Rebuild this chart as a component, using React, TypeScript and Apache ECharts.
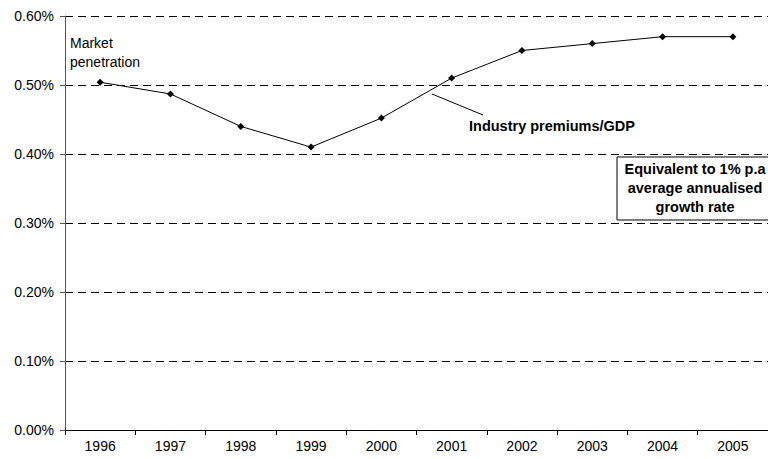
import React, { useEffect, useRef } from "react";
import * as echarts from "echarts";

const years = ["1996", "1997", "1998", "1999", "2000", "2001", "2002", "2003", "2004", "2005"];
const penetration = [0.504, 0.487, 0.44, 0.41, 0.452, 0.51, 0.55, 0.56, 0.57, 0.57];
const yTicks = { min: 0, max: 0.6, interval: 0.1 };

const FONT = "'Liberation Sans', Arial, sans-serif";

export default function App() {
  const ref = useRef<HTMLDivElement>(null);
  useEffect(() => {
    if (!ref.current) return;
    const chart = echarts.init(ref.current, null, { renderer: "svg" });
    chart.setOption({
      animation: false,
      backgroundColor: "#ffffff",
      textStyle: { fontFamily: FONT },
      grid: { left: 65, top: 16, bottom: 29, right: -15, containLabel: false },
      xAxis: {
        type: "category",
        data: years,
        boundaryGap: true,
        axisLine: { lineStyle: { color: "#000", width: 1 } },
        axisTick: { show: true, length: 5, inside: false, lineStyle: { color: "#000" } },
        axisLabel: { color: "#000", fontSize: 14, fontFamily: FONT, margin: 9 },
        splitLine: { show: false },
      },
      yAxis: {
        type: "value",
        min: yTicks.min,
        max: yTicks.max,
        interval: yTicks.interval,
        axisLine: { show: true, lineStyle: { color: "#555", width: 1 } },
        axisTick: { show: true, length: 5, lineStyle: { color: "#555" } },
        axisLabel: {
          color: "#000",
          fontSize: 14,
          fontFamily: FONT,
          margin: 11,
          formatter: (v: number) => v.toFixed(2) + "%",
        },
        splitLine: {
          show: true,
          lineStyle: { color: "#000", width: 1, type: [8, 5] },
        },
      },
      series: [
        {
          type: "line",
          data: penetration,
          symbol: "diamond",
          symbolSize: 7,
          itemStyle: { color: "#000" },
          lineStyle: { color: "#000", width: 1 },
          z: 5,
        },
      ],
      graphic: [
        {
          type: "text",
          left: 70,
          top: 33,
          style: {
            text: "Market\npenetration",
            font: `14px ${FONT}`,
            fill: "#000",
            lineHeight: 19,
          },
        },
        {
          type: "line",
          shape: { x1: 432, y1: 94, x2: 483, y2: 115 },
          style: { stroke: "#000", lineWidth: 1 },
        },
        {
          type: "text",
          left: 469,
          top: 118,
          style: {
            text: "Industry premiums/GDP",
            font: `bold 14.5px ${FONT}`,
            fill: "#000",
          },
        },
        {
          type: "rect",
          shape: { x: 617, y: 157, width: 170, height: 63 },
          style: { fill: "#fff", stroke: "#000", lineWidth: 1 },
          z: 10,
        },
        {
          type: "text",
          x: 695,
          y: 159,
          z: 11,
          style: {
            text: "Equivalent to 1% p.a\naverage annualised\ngrowth rate",
            font: `bold 14.5px ${FONT}`,
            fill: "#000",
            align: "center",
            verticalAlign: "top",
            lineHeight: 19,
          },
        },
      ],
    });
    return () => chart.dispose();
  }, []);
  return <div ref={ref} style={{ width: 768, height: 459, position: "absolute", left: 0, top: 0 }} />;
}
